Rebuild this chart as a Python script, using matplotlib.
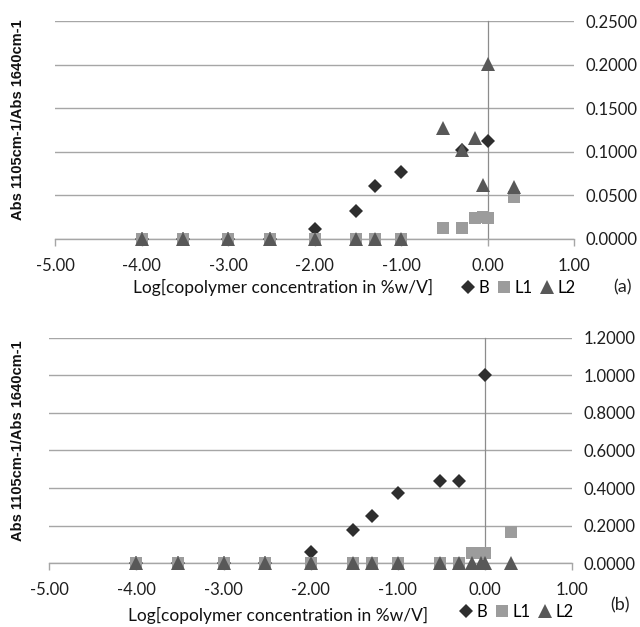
import numpy as np
import matplotlib
matplotlib.use("Agg")
import matplotlib.pyplot as plt
from matplotlib.ticker import FormatStrFormatter, MultipleLocator

plt.rcParams['font.family'] = ['Lato', 'DejaVu Sans']
plt.rcParams['axes.unicode_minus'] = False

# log10 of copolymer concentration (%w/V)
log_conc = [-4.00, -3.52, -3.00, -2.52, -2.00, -1.52, -1.30, -1.00,
            -0.52, -0.30, -0.15, -0.05, 0.00, 0.30]

# panel (a)
a_B = [0, 0, 0, 0, 0.011, 0.032, 0.061, 0.077,
       np.nan, 0.102, np.nan, np.nan, 0.112, np.nan]
a_L1 = [0, 0, 0, 0, 0, 0, 0, 0,
        0.012, 0.012, 0.024, 0.025, 0.024, 0.048]
a_L2 = [0, 0, 0, 0, 0, 0, 0, 0,
        0.127, 0.102, 0.116, 0.062, 0.201, 0.060]

# panel (b)
b_B = [0, 0, 0, 0, 0.057, 0.176, 0.250, 0.373,
       0.436, 0.436, np.nan, np.nan, 1.000, np.nan]
b_L1 = [0, 0, 0, 0, 0, 0, 0, 0,
        0, 0, 0.053, 0.053, 0.053, 0.165]
b_L2 = [0, 0, 0, 0, 0, 0, 0, 0,
        0, 0, 0, 0, 0, 0]

series_names = ['B', 'L1', 'L2']
xlabel = 'Log[copolymer concentration in %w/V]'
ylabel = 'Abs 1105cm-1/Abs 1640cm-1'

GRID = '#a6a6a6'
styles = [dict(marker='D', color='#2e2e2e', ms=6.9),
          dict(marker='s', color='#9c9c9c', ms=9.2),
          dict(marker='^', color='#585858', ms=9.8)]


def draw_panel(fig, rect, series, ymax, ystep, tag, ylab_pos, xlab_pos, leg_pos, tag_pos):
    ax = fig.add_axes(rect)
    handles = []
    for vals, st in zip(series, styles):
        h, = ax.plot(log_conc, vals, linestyle='none', marker=st['marker'],
                     color=st['color'], markersize=st['ms'], markeredgewidth=0,
                     clip_on=False, zorder=3)
        handles.append(h)

    ax.set_xlim(-5, 1)
    ax.set_ylim(0, ymax)
    ax.xaxis.set_major_locator(MultipleLocator(1))
    ax.xaxis.set_major_formatter(FormatStrFormatter('%.2f'))
    ax.yaxis.set_major_locator(MultipleLocator(ystep))
    ax.yaxis.set_major_formatter(FormatStrFormatter('%.4f'))

    ax.grid(axis='y', color=GRID, linewidth=1.0, zorder=0)
    ax.set_axisbelow(True)
    for s in ['top', 'right']:
        ax.spines[s].set_visible(False)
    ax.spines['left'].set_position(('data', 0))
    ax.spines['left'].set_color('#8c8c8c')
    ax.spines['left'].set_linewidth(0.9)
    ax.spines['bottom'].set_color(GRID)
    ax.spines['bottom'].set_linewidth(1.0)

    ax.yaxis.tick_right()
    ax.tick_params(axis='y', length=0, pad=8, labelsize=12, labelcolor='#1e1e1e')
    ax.tick_params(axis='x', length=5, width=1, color=GRID, pad=9,
                   labelsize=12, labelcolor='#1e1e1e')

    fig.text(ylab_pos[0], ylab_pos[1], ylabel, rotation=90, ha='center', va='center',
             fontsize=10.5, fontweight='bold', family='Liberation Sans', color='#111111')
    fig.text(xlab_pos[0], xlab_pos[1], xlabel, ha='center', va='center',
             fontsize=12.5, color='#111111')
    fig.text(tag_pos[0], tag_pos[1], tag, ha='center', va='center',
             fontsize=13, color='#222222')
    ax.legend(handles, series_names, loc='center left', bbox_to_anchor=leg_pos,
              bbox_transform=fig.transFigure, ncol=3, frameon=False,
              handlelength=0.6, handletextpad=0.3, columnspacing=0.6,
              fontsize=12, borderaxespad=0, borderpad=0)
    return ax


fig = plt.figure(figsize=(6.40, 6.27), dpi=100)

draw_panel(fig, [0.086, 0.619, 0.811, 0.3475], [a_B, a_L1, a_L2], 0.25, 0.05, '(a)',
           ylab_pos=(0.028, 0.809), xlab_pos=(0.442, 0.541),
           leg_pos=(0.724, 0.541), tag_pos=(0.973, 0.542))

draw_panel(fig, [0.077, 0.102, 0.817, 0.359], [b_B, b_L1, b_L2], 1.2, 0.2, '(b)',
           ylab_pos=(0.028, 0.297), xlab_pos=(0.434, 0.018),
           leg_pos=(0.721, 0.024), tag_pos=(0.969, 0.034))

fig.savefig('out.png', dpi=100)
